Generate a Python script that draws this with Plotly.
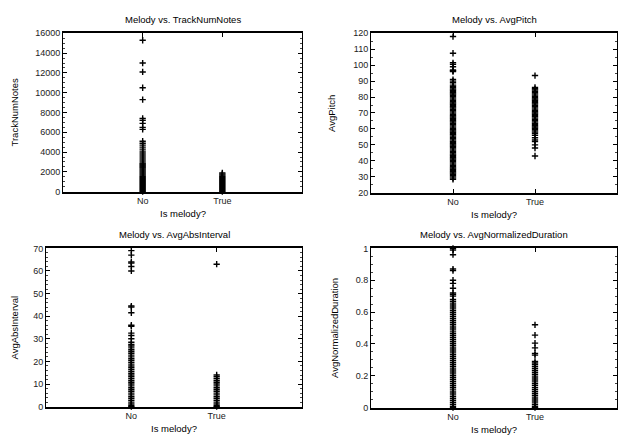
import plotly.graph_objects as go

W, H = 618, 441

categories = ["No", "True"]

# --- values ---
notes_no = [15300, 13000, 12100, 10500, 9300, 7400, 7200, 6900, 6500, 6300,
            5100, 4900, 4700, 4500, 4300, 4100, 3900, 3700, 3500, 3300, 3100,
            2900, 2800, 2700, 2600, 2500, 2400, 2300, 2200, 2100, 2000, 1900,
            1800, 1700, 1600, 1500, 1400, 1300, 1200, 1100, 1000, 900, 800, 700,
            600, 500, 400, 300, 200, 100, 0]
notes_true = [1900, 1800, 1700, 1600, 1500, 1400, 1300, 1200, 1100, 1000, 900,
              800, 700, 600, 500, 400, 300, 200, 100, 0]

pitch_no = [118, 107.5, 101.5, 100.5, 99, 97, 96.5, 96, 91, 90, 89,
            87.5, 86.7, 85.9, 85.1, 84.3, 83.5, 82.7, 81.9, 81.1, 80.3, 79.5,
            78.7, 77.9, 77.1, 76.3, 75.5, 74.7, 73.9, 73.1, 72.3, 71.5, 70.7,
            69.9, 69.1, 68.3, 67.5, 66.7, 65.9, 65.1, 64.3, 63.5, 62.7, 61.9,
            61.1, 60.3, 59.5, 58.7, 57.9, 57.1, 56.3, 55.5, 54.7, 53.9, 53.1,
            52.3, 51.5, 50.7, 49.9, 49.1, 48.3, 47.5, 46.7, 45.9, 45.1, 44.3,
            43.5, 42.7, 41.9, 41.1, 40.3, 39.5, 38.7, 37.9, 37.1, 36.3, 35.5,
            34.7, 33.9, 33.1, 32.3, 31.5, 30.7, 29.9, 29.1, 28.3]
pitch_true = [93.5, 86, 85.2, 84.4, 83.6, 82.8, 82, 81.2, 80.4, 79.6, 78.8, 78,
              77.2, 76.4, 75.6, 74.8, 74, 73.2, 72.4, 71.6, 70.8, 70, 69.2, 68.4,
              67.6, 66.8, 66, 65.2, 64.4, 63.6, 62.8, 62, 61.2, 60.4, 59.6, 58.8,
              58, 57.2, 56, 54.5, 53, 52, 50, 48, 43]

interval_no = [69, 67, 64, 63.5, 62, 60, 44.5, 44, 41.5, 36, 35.5, 32.5, 31.5,
               30, 28.5, 27.5, 26.8, 26, 25.2, 24.4, 23.6, 22.8, 22, 21.2, 20.4,
               19.6, 18.8, 18, 17.2, 16.4, 15.6, 14.8, 14, 13.2, 12.4, 11.6,
               10.8, 10, 9.2, 8.4, 7.6, 6.8, 6, 5.2, 4.4, 3.6, 2.8, 2, 1.2, 0.4, 0]
interval_true = [63, 14, 13.2, 12.4, 11.6, 10.8, 10, 9.2, 8.4, 7.6, 6.8, 6, 5.2,
                 4.4, 3.6, 2.8, 2, 1.2, 0.4, 0]

duration_no = [1.0, 0.99, 0.96, 0.87, 0.86, 0.80, 0.78, 0.75, 0.72, 0.71, 0.70,
               0.68, 0.668, 0.656, 0.644, 0.632, 0.62, 0.608, 0.596, 0.584,
               0.572, 0.56, 0.548, 0.536, 0.524, 0.512, 0.5, 0.488, 0.476, 0.464,
               0.452, 0.44, 0.428, 0.416, 0.404, 0.392, 0.38, 0.368, 0.356,
               0.344, 0.332, 0.32, 0.308, 0.296, 0.284, 0.272, 0.26, 0.248,
               0.236, 0.224, 0.212, 0.2, 0.188, 0.176, 0.164, 0.152, 0.14,
               0.128, 0.116, 0.104, 0.092, 0.08, 0.068, 0.056, 0.044, 0.032,
               0.02, 0.008, 0]
duration_true = [0.52, 0.455, 0.405, 0.375, 0.34, 0.33, 0.29, 0.28, 0.27, 0.258,
                 0.246, 0.234, 0.222, 0.21, 0.198, 0.186, 0.174, 0.162, 0.15,
                 0.138, 0.126, 0.114, 0.102, 0.09, 0.078, 0.066, 0.054, 0.042,
                 0.03, 0.018, 0.006, 0]

panels = [
    dict(title="Melody vs. TrackNumNotes", ytitle="TrackNumNotes",
         no=notes_no, yes=notes_true,
         ticks=[0, 2000, 4000, 6000, 8000, 10000, 12000, 14000, 16000],
         labels=["0", "2000", "4000", "6000", "8000", "10000", "12000", "14000", "16000"],
         box=(63, 302, 29, 191), ytx=15),
    dict(title="Melody vs. AvgPitch", ytitle="AvgPitch",
         no=pitch_no, yes=pitch_true,
         ticks=[20, 30, 40, 50, 60, 70, 80, 90, 100, 110, 120],
         labels=["20", "30", "40", "50", "60", "70", "80", "90", "100", "110", "120"],
         box=(371, 617, 29, 192), ytx=332),
    dict(title="Melody vs. AvgAbsInterval", ytitle="AvgAbsInterval",
         no=interval_no, yes=interval_true,
         ticks=[0, 10, 20, 30, 40, 50, 60, 70],
         labels=["0", "10", "20", "30", "40", "50", "60", "70"],
         box=(46, 302, 249, 411), ytx=15),
    dict(title="Melody vs. AvgNormalizedDuration", ytitle="AvgNormalizedDuration",
         no=duration_no, yes=duration_true,
         ticks=[0, 0.2, 0.4, 0.6, 0.8, 1.0],
         labels=["0", "0.2", "0.4", "0.6", "0.8", "1"],
         box=(371, 617, 249, 412), ytx=334),
]

FONT = "Liberation Sans, Arial, sans-serif"

def px(x):
    return x / W

def py(y):
    return 1 - y / H

fig = go.Figure()
annotations = []
layout = {}
for i, p in enumerate(panels):
    n = "" if i == 0 else str(i + 1)
    xa, ya = "x" + n, "y" + n
    for cat, vals in zip(categories, [p["no"], p["yes"]]):
        fig.add_trace(go.Scatter(
            x=[cat] * len(vals), y=vals, mode="markers",
            xaxis=xa, yaxis=ya, showlegend=False, cliponaxis=False,
            hoverinfo="skip",
            marker=dict(symbol="cross-thin", size=4.5, color="black",
                        line=dict(color="black", width=1.4)),
        ))
    x0, x1, y0, y1 = p["box"]
    common = dict(showgrid=False, zeroline=False, showline=True, linecolor="black",
                  mirror="ticks", ticks="inside", ticklen=4,
                  tickcolor="black", tickfont=dict(family=FONT, size=9, color="#222"))
    layout["xaxis" + n] = dict(common, linewidth=1.6, domain=[px(x0), px(x1)], anchor=ya,
                               type="category", categoryorder="array",
                               categoryarray=categories, range=[-1, 2])
    layout["yaxis" + n] = dict(common, linewidth=1, domain=[py(y1), py(y0)], anchor=xa,
                               range=[p["ticks"][0], p["ticks"][-1]],
                               tickmode="array", tickvals=p["ticks"], ticktext=p["labels"],
                               minor=dict(ticks="inside", ticklen=2, nticks=10,
                                          tickcolor="#444"))
    cx = (x0 + x1) / 2
    annotations.append(dict(text=p["title"], x=px(cx), y=py(y0 - 14), xref="paper",
                            yref="paper", showarrow=False, xanchor="center",
                            yanchor="middle", font=dict(family=FONT, size=9.5, color="black")))
    annotations.append(dict(text="Is melody?", x=px(cx), y=py(y1 + 22), xref="paper",
                            yref="paper", showarrow=False, xanchor="center",
                            yanchor="middle", font=dict(family=FONT, size=9.5, color="black")))
    annotations.append(dict(text=p["ytitle"], x=px(p["ytx"]), y=py((y0 + y1) / 2),
                            xref="paper", yref="paper", showarrow=False, textangle=-90,
                            xanchor="center", yanchor="middle",
                            font=dict(family=FONT, size=9.5, color="black")))

fig.update_layout(width=W, height=H, margin=dict(l=0, r=0, t=0, b=0),
                  paper_bgcolor="white", plot_bgcolor="white", hovermode=False,
                  annotations=annotations, **layout)

fig.write_html("out.html", config={"displayModeBar": False},
               post_script="document.body.style.margin='0';document.body.style.overflow='hidden';")
